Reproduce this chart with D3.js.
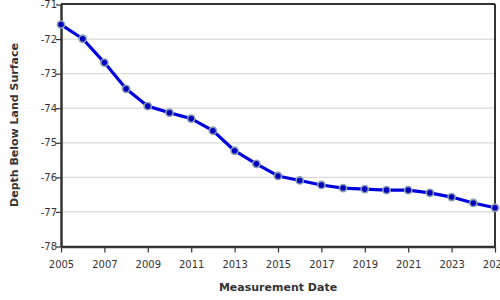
<!DOCTYPE html>
<html>
<head>
<meta charset="utf-8">
<script src="https://cdn.jsdelivr.net/npm/d3@7"></script>
<style>
  body { margin: 0; background: #fff; }
  svg { font-family: "DejaVu Sans", Verdana, sans-serif; }
</style>
</head>
<body>
<svg width="500" height="300"></svg>
<script>
// readings, one per year
const years = [2005,2006,2007,2008,2009,2010,2011,2012,2013,2014,2015,2016,2017,2018,2019,2020,2021,2022,2023,2024,2025];
const depths = [-71.58,-71.99,-72.68,-73.44,-73.94,-74.13,-74.30,-74.65,-75.23,-75.61,-75.96,-76.09,-76.22,-76.31,-76.34,-76.37,-76.37,-76.45,-76.57,-76.74,-76.88];
const xTicks = [2005,2007,2009,2011,2013,2015,2017,2019,2021,2023,2025];
const yTicks = [-71,-72,-73,-74,-75,-76,-77,-78];

const svg = d3.select('svg');
const mLeft = 61, mRight = 495, mTop = 4.5, mBottom = 246.5;

const x = d3.scaleLinear().domain([2005, 2025]).range([mLeft, mRight]);
const y = d3.scaleLinear().domain([-78, -71]).range([mBottom, mTop]);

// grid
svg.append('g')
  .selectAll('line')
  .data(yTicks)
  .enter()
  .append('line')
  .attr('x1', mLeft).attr('x2', mRight)
  .attr('y1', d => y(d)).attr('y2', d => y(d))
  .attr('stroke', '#d9d9d9')
  .attr('stroke-width', 1.2);

// frame top + right
svg.append('line').attr('x1', mLeft).attr('x2', mRight).attr('y1', mTop - 0.5).attr('y2', mTop - 0.5)
  .attr('stroke', '#333').attr('stroke-width', 2);
svg.append('line').attr('x1', mRight).attr('x2', mRight).attr('y1', mTop - 0.5).attr('y2', mBottom)
  .attr('stroke', '#333').attr('stroke-width', 2);

const xAxis = svg.append('g')
  .attr('transform', `translate(0,${mBottom})`)
  .call(d3.axisBottom(x).tickValues(xTicks).tickFormat(d3.format('d')).tickSize(6).tickSizeOuter(0));
const yAxis = svg.append('g')
  .attr('transform', `translate(${mLeft},0)`)
  .call(d3.axisLeft(y).tickValues(yTicks).tickFormat(d => d3.format('d')(d).replace('−', '-')).tickSize(5).tickSizeOuter(0));

[xAxis, yAxis].forEach(g => {
  g.select('.domain').attr('stroke', '#333').attr('stroke-width', 2.5);
  g.selectAll('.tick line').attr('stroke', '#333').attr('stroke-width', 1.2);
  g.selectAll('.tick text').attr('fill', '#333').style('font-size', '10px')
    .style('font-family', '"DejaVu Sans", Verdana, sans-serif');
});
xAxis.selectAll('.tick text').attr('dy', '1.25em');
yAxis.selectAll('.tick text').attr('x', -4);

// series
const pts = years.map((yr, i) => ({ yr: yr, v: depths[i] }));
const line = d3.line().x(d => x(d.yr)).y(d => y(d.v));
svg.append('path')
  .datum(pts)
  .attr('d', line)
  .attr('fill', 'none')
  .attr('stroke', '#0000dd')
  .attr('stroke-width', 3.2)
  .attr('stroke-linejoin', 'round');

svg.append('g')
  .selectAll('circle')
  .data(pts)
  .enter()
  .append('circle')
  .attr('cx', d => x(d.yr))
  .attr('cy', d => y(d.v))
  .attr('r', 3.6)
  .attr('fill', '#0000bb')
  .attr('stroke', '#8aa0b4')
  .attr('stroke-width', 1.6);

// labels
svg.append('text')
  .attr('x', 278).attr('y', 291)
  .attr('text-anchor', 'middle')
  .attr('fill', '#333')
  .style('font-size', '11px').style('font-weight', 'bold')
  .text('Measurement Date');
svg.append('text')
  .attr('transform', 'translate(18,125) rotate(-90)')
  .attr('text-anchor', 'middle')
  .attr('fill', '#333')
  .style('font-size', '11px').style('font-weight', 'bold')
  .text('Depth Below Land Surface');
</script>
</body>
</html>
